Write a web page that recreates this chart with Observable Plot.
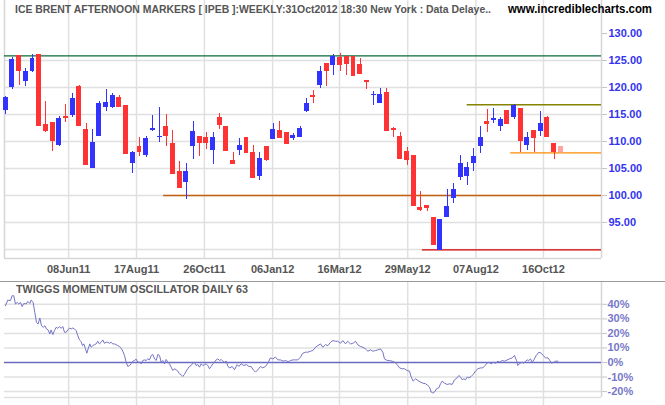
<!DOCTYPE html>
<html><head><meta charset="utf-8">
<script src="https://cdn.jsdelivr.net/npm/d3@7"></script>
<script src="https://cdn.jsdelivr.net/npm/@observablehq/plot@0.6"></script>
<style>
body{margin:0;background:#fff;}
#wrap{position:relative;width:665px;height:405px;overflow:hidden;background:#fff;font-family:"Liberation Sans",Arial,sans-serif;}
#price{position:absolute;left:0;top:0;}
#osc{position:absolute;left:0;top:282px;}
#sep{position:absolute;left:0;top:281px;width:665px;height:1px;background:#9a9a9a;}
#titles{position:absolute;left:0;top:0;pointer-events:none;}
svg{overflow:visible}
</style></head>
<body><div id="wrap"><div id="price"></div><div id="osc"></div><div id="sep"></div>
<svg id="titles" width="665" height="405" font-family="Liberation Sans, Arial, sans-serif" font-weight="bold">
<text x="15" y="12.7" font-size="11" fill="#555" textLength="476" lengthAdjust="spacingAndGlyphs">ICE BRENT AFTERNOON MARKERS [ IPEB ]:WEEKLY:31Oct2012 18:30 New York : Data Delaye..</text>
<text x="508" y="13" font-size="12" fill="#000" textLength="144" lengthAdjust="spacingAndGlyphs">www.incrediblecharts.com</text>
<text x="16" y="293.3" font-size="11" fill="#555" textLength="232" lengthAdjust="spacingAndGlyphs">TWIGGS MOMENTUM OSCILLATOR DAILY 63</text>
</svg>
</div>
<script>
// ---- weekly candles (index 0 = first week shown) ----
const open  = [115.9,120.1,125.8,121.2,123.0,126.1,113.0,113.5,109.3,114.6, 114.9,120.0,112.2,105.1,111.1,116.4,116.3,118.1,116.5,106.0, 108.9,107.5,112.2,110.8,112.6,109.6,104.3,102.5,109.1,110.9, 110.7,108.4,114.3,112.6,106.3,108.4,110.7,107.8,103.6,108.9, 110.4,112.0,111.5,110.6,110.9,115.7,118.5,120.4,124.3,124.1, 125.4,125.6,125.6,124.1,121.2,118.6,117.2,118.9,112.3,110.9, 108.0,107.4,97.6,98.1,95.9,89.9,96.0,99.5,103.4,103.6, 106.1,109.1,113.7,113.9,112.8,115.6,114.6,116.1,109.3,112.0, 111.9,114.3,109.6,108.9];
const close = [118.0,125.0,123.1,122.8,125.2,112.8,111.9,110.1,114.1,114.3, 117.8,112.8,105.6,109.8,116.9,117.2,118.5,116.3,107.7,107.8, 108.0,110.4,112.4,110.9,111.0,104.0,101.4,104.3,111.7,109.7, 109.7,110.6,113.0,108.2,105.8,109.1,107.8,103.2,106.7,106.5, 112.2,110.6,109.5,111.1,112.4,116.9,118.3,122.8,123.1,125.6, 124.1,124.3,122.2,122.5,121.0,118.7,118.7,112.0,112.1,106.7, 106.5,98.0,97.4,97.7,90.8,95.4,97.8,101.1,105.9,105.0, 107.2,110.7,113.2,114.1,113.9,113.3,116.5,110.0,110.7,110.6, 113.3,110.9,108.0,108.0];
const high  = [118.3,125.6,125.8,123.6,126.1,126.1,117.4,113.5,114.6,116.9, 118.9,120.4,113.3,112.2,117.4,119.6,118.9,118.5,116.5,108.1, 110.7,110.9,114.8,116.3,115.0,112.0,106.3,105.9,113.7,110.9, 111.7,111.7,115.2,112.6,108.0,110.6,110.7,109.3,108.0,108.9, 113.3,113.7,111.5,111.5,112.8,118.0,119.4,123.9,124.3,126.1, 126.3,125.6,125.6,125.4,121.3,119.3,119.8,119.8,112.6,111.7, 108.9,107.4,100.7,98.1,95.9,95.4,101.1,102.2,107.4,106.1, 108.7,112.8,115.9,116.1,114.5,115.6,116.9,116.1,111.7,112.0, 115.6,114.6,109.6,109.1];
const low   = [115.0,119.6,120.4,120.2,122.7,112.8,111.7,108.2,109.1,113.6, 114.5,112.8,105.6,105.1,111.0,115.6,116.1,116.3,107.7,104.0, 107.3,107.1,111.9,109.9,109.0,104.0,101.4,99.3,106.7,107.2, 108.5,105.8,112.2,108.2,105.8,107.4,107.8,103.2,102.8,106.3, 110.4,110.6,109.5,110.1,110.7,115.4,117.1,119.8,120.2,122.2, 123.0,122.2,122.2,122.5,119.6,116.7,117.0,112.0,110.7,106.7, 105.6,98.0,97.1,97.1,90.8,89.9,96.0,98.6,102.8,101.9, 104.5,107.8,111.7,113.3,111.9,113.1,114.1,108.0,108.3,108.0, 110.9,110.9,106.7,107.8];

// ---- x axis (week index) ----
const xDomain = [-0.19, 89.08];
const tickPos = [9.4, 19.55, 29.7, 39.9, 49.9, 60.1, 70.3, 80.4];
const tickLabels = ["08Jun11","17Aug11","26Oct11","06Jan12","16Mar12","29May12","07Aug12","16Oct12"];

// ---- price axis ----
const priceDomain = [88.33, 136.11];
const priceTicks = [95,100,105,110,115,120,125,130];
const priceGrid = [90,95,100,105,110,115,120,125];

// ---- horizontal support / resistance lines ----
const levelPrice = [125.87, 116.8, 107.9, 100.0, 89.94];
const levelFrom  = [-0.19, 69.0, 75.5, 23.6, 62.3];
const levelColor = ["#0b6a3a", "#848400", "#ff8a00", "#c2600e", "#d80000"];

// ---- Twiggs momentum oscillator (position in week index, value %) ----
const oscX = [-0.05,0.30,0.70,0.95,1.20,1.45,1.70,1.95,2.20,2.45,2.70,3.05,3.30,3.59,3.79,4.09,4.34,4.59,4.84,5.09,5.34,5.59,5.84,6.09,6.34,6.58,6.78,7.03,7.28,7.53,7.78,8.03,8.28,8.53,8.78,9.03,9.28,9.53,9.78,10.02,10.27,10.52,10.77,11.02,11.27,11.47,11.67,11.92,12.12,12.32,12.57,12.77,13.02,13.27,13.51,13.76,14.01,14.26,14.51,14.76,15.01,15.26,15.51,15.76,16.01,16.26,16.51,16.75,17.00,17.25,17.50,17.75,18.00,18.25,18.50,18.75,19.00,19.25,19.50,19.75,19.99,20.24,20.49,20.74,20.99,21.24,21.49,21.74,21.99,22.24,22.49,22.74,22.99,23.23,23.48,23.73,23.98,24.23,24.48,24.73,24.98,25.23,25.48,25.73,25.98,26.23,26.47,26.72,26.97,27.22,27.47,27.72,27.97,28.22,28.47,28.72,28.97,29.22,29.47,29.72,29.96,30.21,30.46,30.71,30.96,31.21,31.46,31.71,31.96,32.21,32.46,32.71,32.96,33.21,33.50,
 33.85,34.20,34.60,34.85,35.20,35.60,35.99,36.34,36.69,36.99,37.34,37.69,38.09,38.44,38.84,39.19,39.58,39.93,40.33,40.68,41.08,41.48,41.83,42.23,42.58,42.97,43.32,43.67,44.07,44.42,44.82,45.17,45.57,45.92,46.31,46.66,47.06,47.41,47.81,48.16,48.56,48.91,49.31,49.65,50.05,50.40,50.80,51.15,51.55,51.90,52.30,52.65,53.04,53.39,53.79,54.14,54.54,54.89,55.29,55.64,56.03,56.38,56.63,57.03,57.38,57.78,58.13,58.53,58.88,59.28,59.62,60.02,60.37,60.62,60.92,61.27,61.62,62.02,62.37,62.77,63.11,63.36,63.61,63.86,64.11,64.41,64.76,65.01,65.26,65.61,66.00,66.40,
 66.75,67.10,67.50,67.75,68.00,68.25,68.50,68.75,69.00,69.24,69.59,69.89,70.24,70.59,70.99,71.34,71.64,71.99,72.24,72.58,72.88,73.23,73.58,73.88,74.23,74.58,74.98,75.33,75.72,76.07,76.37,76.57,76.87,77.22,77.47,77.72,77.97,78.22,78.47,78.72,78.97,79.31,79.71,80.06,80.36,80.71,81.06,81.36,81.61,81.96,82.20,82.55];
const oscV = [39,42.9,42.5,45.9,45.9,40.2,41.3,40.2,41.3,38.4,40.6,40.2,42,40.6,42.9,41.3,34.5,27.6,26.5,30.6,25.3,24.2,25.3,23.1,22.4,19.6,22.4,19.2,21.9,24.2,23.5,24.7,23.5,24.7,20.8,20.8,22.4,23.7,23.1,23.7,23.1,21.9,18.5,15.5,14.4,11.6,12.8,9.4,6.4,9.4,12.8,10.5,11.6,12.3,12.8,14.6,12.8,13.9,15.5,13.2,13.9,13.9,13.2,13.9,12.8,12.8,12.3,11.6,11.0,9.8,7.8,4.8,0.2,-2.7,-2.1,-0.9,0.9,1.4,2.3,0.2,0.2,-0.9,1.4,1.8,1.4,2.5,1.8,4.8,5.5,2.5,1.4,5.5,4.8,0.2,1.4,-0.9,2.1,0.2,-0.9,-3.2,-5.5,-4.3,-5.0,-5.9,-7.8,-8.4,-9.6,-8.2,-5.9,-4.3,-2.7,-2.1,-0.5,0.2,-2.1,-1.4,-3.2,-0.9,-2.1,-1.4,-0.9,-2.1,-4.3,-2.7,-0.9,0.2,1.8,2.5,1.4,2.1,0.9,0.2,0.9,-2.7,-3.7,
 -2.7,-5.0,-1.4,-2.7,-0.9,-2.1,-1.4,-2.7,-2.7,-5.0,-6.6,-5.0,-2.7,-3.7,-2.7,-0.5,3.2,2.5,3.7,1.8,1.8,0.9,1.4,0.5,1.4,1.8,1.8,1.8,3.7,6.4,7.1,7.1,7.8,8.2,10.5,11.6,12.8,10.5,12.3,11.6,13.9,15.1,14.6,14.6,13.2,15.1,12.8,14.6,12.8,13.2,14.6,12.1,11.0,10.5,9.4,7.8,8.7,7.8,8.2,8.7,9.4,7.1,2.5,1.4,1.4,0.9,0.2,-1.4,-3.7,-4.3,-4.3,-5.5,-5.9,-10.0,-12.8,-11.2,-12.3,-13.5,-14.2,-14.6,-15.8,-16.9,-20.3,-21.0,-20.3,-18.0,-17.4,-14.6,-12.8,-14.2,-15.1,-14.6,
 -15.1,-11.9,-10.5,-8.9,-10.0,-11.9,-11.2,-11.9,-10.0,-10.5,-9.6,-8.2,-5.9,-4.3,-3.7,-3.7,-2.1,-0.5,0.2,-0.9,0.2,-0.5,0.9,0.2,1.4,0.9,1.8,2.5,3.2,4.8,1.4,-2.1,-0.5,0.2,-0.5,0.9,1.8,1.4,2.5,0.2,1.8,4.8,7.1,6.4,4.8,3.2,3.2,1.4,-0.5,0.2,0.9,0.9];
const oscDomain = [-29.55, 55.0];
const oscTicks = [-20,-10,0,10,20,30,40];
const oscBottom = -24.05;

// ---- build ----
const candles = open.map((o, i) => ({i, open: o, close: close[i], high: high[i], low: low[i], partial: i === open.length - 1}));
const candleColor = d => d.partial ? "#ffa3a3" : (d.close >= d.open ? "#3333ff" : "#ff3333");
const levels = levelPrice.map((p, j) => ({p, from: levelFrom[j], color: levelColor[j]}));
const osc = oscX.map((x, j) => ({x, v: oscV[j]}));
const GRID = "#e0e0e0";
const font = {fontFamily: "Liberation Sans, Arial, sans-serif", fontSize: "11px", fontWeight: "bold", background: "transparent"};

const price = Plot.plot({
  width: 665, height: 282,
  marginTop: 0, marginBottom: 24, marginLeft: 4, marginRight: 64,
  style: font,
  x: {type: "linear", domain: xDomain},
  y: {type: "linear", domain: priceDomain},
  marks: [
    Plot.ruleY(priceGrid, {stroke: GRID, strokeWidth: 1.5}),
    Plot.ruleX(tickPos, {stroke: GRID, strokeWidth: 1.5}),
    Plot.ruleX([xDomain[0], xDomain[1]], {stroke: "#d6d6d6", strokeWidth: 1.5}),
    Plot.ruleY([priceDomain[0]], {stroke: "#d6d6d6", strokeWidth: 1.5}),
    Plot.ruleY(levels, {y: "p", x1: "from", x2: xDomain[1], stroke: "color", strokeWidth: 1.3}),
    Plot.ruleX(candles, {x: "i", y1: "low", y2: "high", stroke: candleColor, strokeWidth: 1, shapeRendering: "crispEdges"}),
    Plot.rect(candles, {x1: d => d.i - 0.37, x2: d => d.i + 0.37, y1: "open", y2: "close", fill: candleColor, insetTop: -0.5, insetBottom: -0.5, shapeRendering: "crispEdges"}),
    Plot.axisY({anchor: "right", ticks: priceTicks, tickFormat: d3.format(".2f"), tickSize: 5, tickPadding: 2, stroke: "#c4c4c4", fill: "#3333f0", label: null}),
    Plot.axisX({ticks: tickPos, tickFormat: d => tickLabels[tickPos.indexOf(d)], tickSize: 0, tickPadding: 7, fill: "#555", label: null})
  ]
});
document.getElementById("price").appendChild(price);

const oscPlot = Plot.plot({
  width: 665, height: 123,
  marginTop: 0, marginBottom: 0, marginLeft: 4, marginRight: 64,
  style: font,
  x: {type: "linear", domain: xDomain, axis: null},
  y: {type: "linear", domain: oscDomain},
  marks: [
    Plot.ruleY(oscTicks.filter(d => d !== 0), {stroke: GRID, strokeWidth: 1.5, x1: xDomain[0], x2: xDomain[1]}),
    Plot.ruleY([oscBottom], {stroke: GRID, strokeWidth: 1.5, x1: xDomain[0], x2: xDomain[1]}),
    Plot.ruleX(tickPos, {stroke: GRID, strokeWidth: 1.5}),
    Plot.ruleX([xDomain[1]], {stroke: "#d6d6d6", strokeWidth: 1.5, y1: oscBottom, y2: oscDomain[1]}),
    Plot.ruleY([0], {stroke: "#6a6ac2", strokeWidth: 1.3, x1: xDomain[0], x2: xDomain[1]}),
    Plot.line(osc, {x: "x", y: "v", stroke: "#7474c6", strokeWidth: 1}),
    Plot.axisY({anchor: "right", ticks: oscTicks, tickFormat: d => d + "%", tickSize: 5, tickPadding: 1, stroke: "#c4c4c4", fill: "#7878c8", label: null})
  ]
});
document.getElementById("osc").appendChild(oscPlot);
</script>
</body></html>
